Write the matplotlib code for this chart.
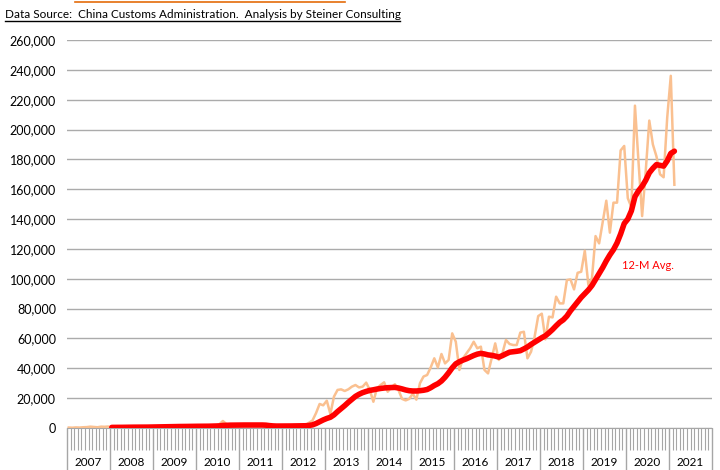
import numpy as np
import matplotlib.pyplot as plt
from matplotlib.lines import Line2D

plt.rcParams['font.family'] = ['Lato', 'DejaVu Sans']

# -----------------------------------------------------------------------------
# Data: monthly values, Jan 2007 .. Feb 2021
# -----------------------------------------------------------------------------
years = list(range(2007, 2022))

monthly = [
    300, 200, 400, 300, 500, 600, 900, 700, 500, 900, 800, 1000,            # 2007
    300, 400, 500, 400, 600, 500, 700, 600, 500, 800, 700, 900,             # 2008
    800, 600, 900, 1000, 1100, 900, 1200, 1000, 1300, 1100, 1200, 1300,     # 2009
    1200, 1000, 1300, 1500, 1400, 1600, 2500, 4700, 2600, 1800, 1700, 1900, # 2010
    1700, 1500, 1800, 1900, 1800, 1600, 1700, 1500, 1200, 1000, 900, 1100,  # 2011
    1200, 1000, 1400, 1500, 1300, 1600, 1800, 3500, 5000, 10000, 16100, 15200,
    18300, 9400, 21000, 25500, 25900, 24800, 25900, 27700, 28800, 27200, 27700, 30400,
    25500, 17600, 26600, 28800, 30600, 24300, 27200, 29300, 25500, 19500, 18500, 19500,
    23000, 19000, 30000, 34500, 35500, 40600, 46700, 40600, 49600, 43300, 45600, 63400,
    57800, 38900, 46700, 50000, 53400, 57800, 53400, 54500, 38900, 36600, 46700, 56700,
    45600, 50000, 59000, 56300, 55600, 55600, 63900, 64500, 46700, 51100, 61200, 75000,
    76600, 59400, 74600, 74100, 88000, 83500, 83500, 99100, 99600, 92900, 104000, 104700,
    118800, 95800, 100300, 128600, 123700, 138200, 152300, 130900, 151000, 151000, 186000, 189000,
    154000, 148000, 216000, 178000, 142000, 172000, 206000, 190000, 182000, 170000, 168000, 208000,
    236000, 163000,
]

# 12-month average, starts Jan 2008
avg12 = [
    400, 400, 450, 450, 500, 500, 550, 550, 550, 600, 600, 650,
    700, 700, 750, 800, 850, 900, 950, 1000, 1000, 1050, 1100, 1100,
    1150, 1150, 1200, 1200, 1250, 1300, 1400, 1700, 1800, 1900, 1900, 1950,
    2000, 2000, 2000, 2000, 2000, 2000, 2000, 1900, 1600, 1400, 1300, 1300,
    1300, 1300, 1350, 1400, 1400, 1450, 1500, 1700, 2100, 3000, 4200, 5400,
    6400, 7200, 8800, 11000, 13000, 15000, 17200, 19200, 21200, 22600, 23700, 24500,
    25200, 25600, 26100, 26500, 26800, 27000, 27100, 27200, 26800, 26200, 25500, 25000,
    24800, 24800, 25000, 25300, 25800, 27000, 28500, 29700, 31500, 34000, 37000, 40300,
    43000, 44400, 45500, 46400, 47500, 48600, 49500, 50000, 49600, 49000, 48700, 48200,
    47500, 48500, 49700, 50800, 51100, 51400, 51800, 53000, 54300, 56000, 57500, 59000,
    60500, 61800, 63800, 66000, 68500, 70800, 72500, 75000, 78500, 81500, 84500, 87500,
    90000, 92500, 95500, 99500, 103500, 107500, 112000, 116000, 119500, 124000, 130000, 137000,
    140000, 145500, 155000, 159000, 162000, 166000, 171000, 174000, 176500, 176000, 175500, 179000,
    184000, 185500,
]

# -----------------------------------------------------------------------------
# Plot
# -----------------------------------------------------------------------------
fig = plt.figure(figsize=(7.2, 4.7), dpi=100)
ax = fig.add_axes([67 / 720, 42 / 470, 645 / 720, 388 / 470])

x = np.arange(len(monthly)) + 0.5
xa = np.arange(12, 12 + len(avg12)) + 0.5

ax.plot(x, monthly, color='#FAC090', lw=1.8, zorder=3)
ax.plot(xa, avg12, color='#FF0000', lw=4.0, zorder=4, solid_capstyle='round')

ax.text(162, 109000, '12-M Avg.', color='#FF0000', fontsize=8, ha='center', va='center')

ax.set_xlim(0, 180)
ax.set_ylim(0, 260000)
ax.set_yticks(np.arange(0, 260001, 20000))
ax.set_yticklabels(['{:,}'.format(v) for v in range(0, 260001, 20000)], fontsize=9)
ax.yaxis.grid(True, color='#ABABAB', lw=1.0)
ax.set_axisbelow(True)
ax.tick_params(axis='y', length=0, pad=8)

# month ticks and year separators
ax.set_xticks(np.arange(0, 181, 12))
ax.set_xticks(np.arange(0, 181), minor=True)
ax.set_xticklabels([])
ax.tick_params(axis='x', which='major', length=31, width=1.0, color='#A6A6A6')
ax.tick_params(axis='x', which='minor', length=15.5, width=0.8, color='#A6A6A6')

for k, yr in enumerate(years):
    ax.text(6 + 12 * k, -0.088, str(yr), transform=ax.get_xaxis_transform(),
            ha='center', va='center', fontsize=8.5)

for s in ['left', 'right', 'top']:
    ax.spines[s].set_visible(False)
ax.spines['bottom'].set_color('#A6A6A6')

# header
fig.text(5 / 720, 1 - 14 / 470, 'Data Source:  China Customs Administration.  Analysis by Steiner Consulting',
         fontsize=8.5, ha='left', va='center')
fig.add_artist(Line2D([5 / 720, 400 / 720], [1 - 21 / 470, 1 - 21 / 470], color='black', lw=1.0))
fig.add_artist(Line2D([75 / 720, 345 / 720], [1 - 1.5 / 470, 1 - 1.5 / 470], color='#E46C0A', lw=1.2))

plt.savefig('out.png', dpi=100)
